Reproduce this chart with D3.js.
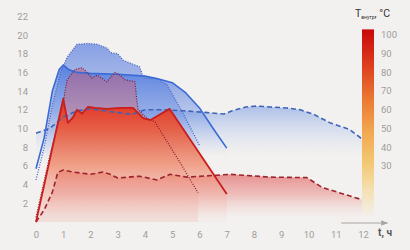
<!DOCTYPE html>
<html><head><meta charset="utf-8">
<script src="https://cdn.jsdelivr.net/npm/d3@7"></script>
<style>
html,body{margin:0;padding:0;background:#f3f1ef;}
svg{display:block;font-family:Roboto,"Noto Sans",sans-serif;}
</style></head>
<body>
<svg id="c" width="410" height="250"></svg>
<script>
// ---- data ----
const xTicks = [0,1,2,3,4,5,6,7,8,9,10,11,12];
const yTicks = [2,4,6,8,10,12,14,16,18,20,22];
const tempTicks = [30,40,50,60,70,80,90,100];

const blueSolid = [[0,5.7],[0.3,9],[0.6,14],[0.85,16.3],[1,16.8],[1.2,16.3],[1.5,16],[2,15.9],[3,15.8],[4,15.6],[4.5,15.3],[5,14.9],[5.5,13.8],[6,12.2],[6.5,10],[7,7.9]];
const blueDotted = [[0,4.5],[0.3,8],[0.6,12.5],[0.9,16],[1.14,17.6],[1.5,19],[1.9,19.1],[2.25,19],[2.6,18.6],[2.75,18.1],[3,18],[3.2,17.3],[3.45,17],[3.8,16.6],[3.95,15.4],[4.4,15.4],[4.8,14.7],[5.4,11.6],[6,8.2]];
const blueDashed = [[0,9.5],[0.5,10],[1,11.2],[1.5,11.9],[2,12.1],[2.5,11.9],[3,11.7],[3.5,11.5],[4,12],[4.7,12],[5.4,11.9],[6.3,11.7],[6.9,11.55],[7.2,11.9],[7.7,12.3],[8.1,12.4],[8.6,12.3],[9.2,12.2],[9.7,12],[10.2,11.5],[10.8,10.6],[11.5,9.9],[12,8.8]];
const redSolid = [[0,0],[1,13.2],[1.17,10.6],[1.36,11.2],[1.5,12],[1.69,11.6],[1.9,12.3],[2.17,12.2],[2.6,12.1],[3.08,12.2],[3.56,12.2],[3.93,11.1],[4.2,10.9],[4.9,12.1],[7,3]];
const redDotted = [[0,0.5],[0.5,7],[1,12.8],[1.14,15.2],[1.43,16.3],[1.69,16.5],[1.87,16],[2.05,15.4],[2.24,15.7],[2.35,15.5],[2.6,15],[2.9,16],[3.08,15.7],[3.27,15.2],[3.63,15],[3.7,13],[3.75,12],[4.07,11.1],[4.37,10.7],[4.66,9.3],[5.28,6.4],[5.95,3.1]];
const redDashed = [[0,0],[0.3,1.3],[0.6,3.2],[0.8,5.3],[1,5.55],[1.36,5.35],[2,5.1],[2.46,5.35],[2.72,5.1],[3,4.7],[3.4,4.8],[3.8,4.9],[4.44,4.5],[4.92,5.1],[5.54,4.8],[6.64,5.0],[7.1,5.1],[8.6,4.8],[9.94,4.75],[10.5,3.7],[12,2.35]];

// ---- layout ----
const svg = d3.select("#c");
const x = d3.scaleLinear().domain([0,12]).range([36,363]);
const y = d3.scaleLinear().domain([0,22]).range([222,16.3]);
const tScale = d3.scaleLinear().domain([30,100]).range([166,35]);

const defs = svg.append("defs");
function vgrad(id, stops, y1, y2){
  const g = defs.append("linearGradient").attr("id",id)
    .attr("gradientUnits","userSpaceOnUse").attr("x1",0).attr("x2",0).attr("y1",y1).attr("y2",y2);
  stops.forEach(s=>g.append("stop").attr("offset",s[0]).attr("stop-color",s[1]).attr("stop-opacity",s[2]));
}
vgrad("gBlueDot", [[0,"#5a7fe0",0.7],[0.55,"#7896e6",0.45],[1,"#a0b8ee",0]], y(19), y(6));
vgrad("gBlueSol", [[0,"#3d6cdc",0.7],[0.55,"#6189e2",0.4],[1,"#a0b8ee",0]], y(17), y(7));
vgrad("gBlueDash", [[0,"#6f93e2",0.55],[0.5,"#9db6ec",0.3],[1,"#c8d6f2",0]], y(12.5), y(7));
vgrad("gRedDot", [[0,"#c65878",0.5],[0.5,"#d8606a",0.4],[1,"#e88070",0.15]], y(16.5), y(8));
vgrad("gRedSol", [[0,"#e23424",1],[0.25,"#ea5a3c",0.92],[0.55,"#f08a6c",0.75],[0.75,"#f2a898",0.5],[1,"#f4c8c0",0.1]], y(13), y(0.3));
vgrad("gRedDash", [[0,"#dc4a4a",0.65],[0.5,"#e67e7a",0.45],[1,"#f0c8c4",0]], y(5.6), y(0.3));
vgrad("gBar", [[0,"#c80808",1],[0.18,"#dc3a1c",1],[0.38,"#ec7a34",1],[0.55,"#f2a850",1],[0.72,"#f3c874",1],[0.86,"#f4e0b0",1],[1,"#f3efe8",1]], tScale(103), y(0.7));

// grid (faint white dotted)
svg.append("g").selectAll("line").data(yTicks).join("line")
  .attr("x1",x(0)).attr("x2",x(12)).attr("y1",d=>y(d)).attr("y2",d=>y(d))
  .attr("stroke","#ffffff").attr("stroke-opacity",0.35).attr("stroke-dasharray","1,2");

const area = d3.area().x(d=>x(d[0])).y0(y(0)).y1(d=>y(d[1])).curve(d3.curveLinear);
const line = d3.line().x(d=>x(d[0])).y(d=>y(d[1])).curve(d3.curveLinear);

const areas = [
  [blueDashed,"gBlueDash"],[blueDotted,"gBlueDot"],[blueSolid,"gBlueSol"],
  [redDashed,"gRedDash"],[redDotted,"gRedDot"],[redSolid,"gRedSol"]
];
areas.forEach(a=>svg.append("path").datum(a[0]).attr("d",area).attr("fill",`url(#${a[1]})`));

const lines = [
  [blueDashed,"#3e64b8",1.6,"5,3"],
  [blueDotted,"#4a62c0",1.3,"1,1.5"],
  [blueSolid,"#3a6ad6",1.6,null],
  [redDashed,"#9c2430",1.6,"5,3"],
  [redDotted,"#7e1a30",1.2,"1,1.5"],
  [redSolid,"#c81e1e",1.8,null]
];
lines.forEach(l=>{
  const p = svg.append("path").datum(l[0]).attr("d",line).attr("fill","none")
    .attr("stroke",l[1]).attr("stroke-width",l[2]).attr("stroke-linejoin","round");
  if(l[3]) p.attr("stroke-dasharray",l[3]);
});

// axes
const ax = svg.append("g").attr("transform",`translate(0,${y(0)})`)
  .call(d3.axisBottom(x).tickValues(xTicks).tickSize(0).tickPadding(9).tickFormat(d3.format("d")));
const ay = svg.append("g").attr("transform",`translate(28,0)`)
  .call(d3.axisLeft(y).tickValues(yTicks).tickSize(0).tickPadding(0).tickFormat(d3.format("d")));
[ax,ay].forEach(g=>{
  g.select(".domain").remove();
  g.selectAll("text").attr("fill","#a09c9a").attr("font-size","9.5px").attr("font-family","Roboto,sans-serif");
});

// x-axis arrow
defs.append("marker").attr("id","arr").attr("viewBox","0 0 10 10").attr("refX",9).attr("refY",5)
  .attr("markerWidth",7).attr("markerHeight",7).attr("orient","auto")
  .append("path").attr("d","M0,1 L10,5 L0,9 Z").attr("fill","#a8a4a2");
svg.append("line").attr("x1",x(11.2)).attr("x2",x(12.9)).attr("y1",223).attr("y2",223)
  .attr("stroke","#a8a4a2").attr("stroke-width",1).attr("marker-end","url(#arr)");
svg.append("text").attr("x",385).attr("y",235.5).attr("text-anchor","middle")
  .attr("font-size","10px").attr("fill","#555").attr("font-weight","bold").text("t, ч");

// colour bar
svg.append("rect").attr("x",362).attr("y",tScale(103)).attr("width",12)
  .attr("height",y(0.7)-tScale(103)).attr("fill","url(#gBar)");
svg.append("g").selectAll("text").data(tempTicks).join("text")
  .attr("x",381).attr("y",d=>tScale(d)+3.3).attr("font-size","9.5px").attr("fill","#a09c9a").text(d=>d);
const ttl = svg.append("text").attr("x",355).attr("y",17).attr("fill","#333").attr("font-size","10.5px");
ttl.append("tspan").text("T");
ttl.append("tspan").attr("font-size","5px").attr("dy",2).text("внутр");
ttl.append("tspan").attr("dy",-2).text(", °C");
</script>
</body></html>
